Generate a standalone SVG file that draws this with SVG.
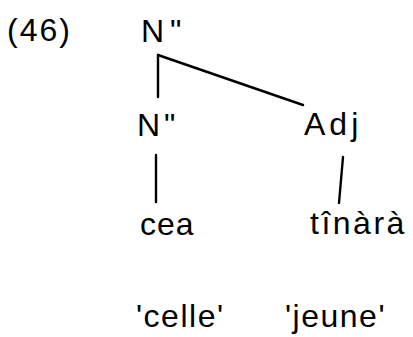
<svg xmlns="http://www.w3.org/2000/svg" width="413" height="337" viewBox="0 0 413 337">
  <style>
    .lbl { font-family: "Liberation Sans", Arial, sans-serif; font-size: 32px; fill: #000; }
    .edge { stroke: #000; stroke-width: 2.4; fill: none; stroke-linecap: round; }
  </style>
  <rect width="413" height="337" fill="#fff"/>
  <text id="ex-num" class="lbl" x="7" y="41" letter-spacing="2">(46)</text>
  <g id="edges">
    <path class="edge" d="M158 55 L158 97"/>
    <path class="edge" d="M158 55 L303 105"/>
    <path class="edge" d="M156 155 L156 202"/>
    <path class="edge" d="M343 157 L339 203"/>
  </g>
  <g id="node-root">
    <text class="lbl" x="141" y="42">N<tspan dx="6">"</tspan></text>
  </g>
  <g id="node-n">
    <text class="lbl" x="137" y="136">N<tspan dx="4">"</tspan></text>
  </g>
  <g id="node-adj">
    <text class="lbl" x="304" y="135" letter-spacing="4">Adj</text>
  </g>
  <g id="leaf-cea">
    <text class="lbl" x="140" y="235" letter-spacing="1">cea</text>
  </g>
  <g id="leaf-tinara">
    <text class="lbl" x="310" y="234" letter-spacing="2.5">tînàrà</text>
  </g>
  <g id="gloss-celle">
    <text class="lbl" x="136" y="327" letter-spacing="1.5">'celle'</text>
  </g>
  <g id="gloss-jeune">
    <text class="lbl" x="285" y="327" letter-spacing="1.5">'jeune'</text>
  </g>
</svg>
